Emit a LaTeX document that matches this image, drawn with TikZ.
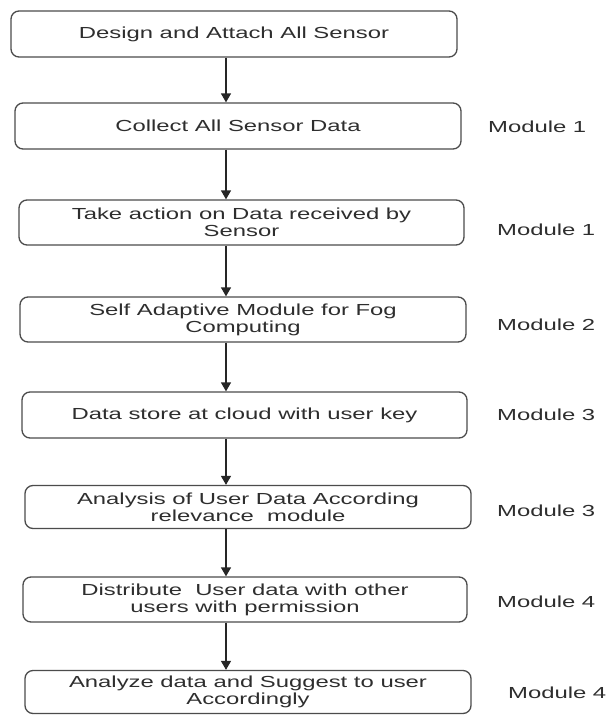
\documentclass[tikz,border=0pt]{standalone}
\usepackage{fontspec}
\setmainfont[FakeStretch=1.49]{Liberation Sans}
\usetikzlibrary{arrows.meta}
\begin{document}
\begin{tikzpicture}[x=1pt,y=-1pt,
  box/.style={draw=black!70, line width=1.3pt, rounded corners=8pt, align=center,
    inner sep=0pt, font=\fontsize{16}{17}\selectfont, text=black!82},
  lab/.style={anchor=west, inner sep=0pt, font=\fontsize{16}{17}\selectfont, text=black!82},
  arr/.style={line width=1.3pt, black!85, -{Triangle[length=9pt,width=10pt]}}]
\useasboundingbox (0,0) rectangle (606,715);
\fill[white] (0,0) rectangle (606,715);
\node[box, minimum width=446pt, minimum height=46pt] (b1) at (234,34) {Design and Attach All Sensor};
\node[box, minimum width=446pt, minimum height=46pt] (b2) at (238,126) {Collect All Sensor Data};
\node[box, minimum width=445pt, minimum height=45pt] (b3) at (241.5,222.5) {Take action on Data received by\\Sensor};
\node[box, minimum width=446pt, minimum height=45pt] (b4) at (243,319.5) {Self Adaptive Module for Fog\\Computing};
\node[box, minimum width=445pt, minimum height=46pt] (b5) at (244.5,415) {Data store at cloud with user key};
\node[box, minimum width=446pt, minimum height=43pt] (b6) at (248,507) {Analysis of User Data According\\relevance\ \ module};
\node[box, minimum width=444pt, minimum height=45pt] (b7) at (245,599.5) {Distribute\ \ User data with other\\users with permission};
\node[box, minimum width=446pt, minimum height=43pt] (b8) at (248,692) {Analyze data and Suggest to user\\Accordingly};
\node[lab] (m1) at (488,127) {Module 1};
\node[lab] (m2) at (497,230) {Module 1};
\node[lab] (m3) at (497,325) {Module 2};
\node[lab] (m4) at (497,415) {Module 3};
\node[lab] (m5) at (497,511) {Module 3};
\node[lab] (m6) at (497,602) {Module 4};
\node[lab] (m7) at (508,693) {Module 4};
\coordinate (ax) at (226,0);
\draw[arr] (b1.south -| ax) -- (b2.north -| ax);
\draw[arr] (b2.south -| ax) -- (b3.north -| ax);
\draw[arr] (b3.south -| ax) -- (b4.north -| ax);
\draw[arr] (b4.south -| ax) -- (b5.north -| ax);
\draw[arr] (b5.south -| ax) -- (b6.north -| ax);
\draw[arr] (b6.south -| ax) -- (b7.north -| ax);
\draw[arr] (b7.south -| ax) -- (b8.north -| ax);
\end{tikzpicture}
\end{document}
